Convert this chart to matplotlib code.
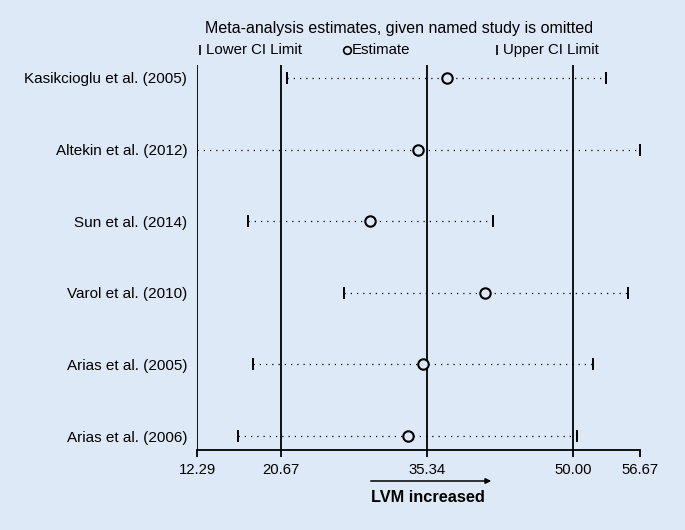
import matplotlib.pyplot as plt
from matplotlib.lines import Line2D

plt.rcParams['font.family'] = ['Liberation Sans', 'DejaVu Sans']

# Studies omitted, in plot order (top to bottom)
studies = ['Kasikcioglu et al. (2005)', 'Altekin et al. (2012)', 'Sun et al. (2014)',
           'Varol et al. (2010)', 'Arias et al. (2005)', 'Arias et al. (2006)']
lower_ci = [21.31, 12.29, 17.37, 27.02, 17.87, 16.43]
estimate = [37.31, 34.47, 29.62, 41.15, 34.90, 33.40]
upper_ci = [53.27, 56.67, 41.92, 55.44, 52.00, 50.34]

# overall estimate and axis ticks
overall = [20.67, 35.34, 50.00]
xticks = [12.29, 20.67, 35.34, 50.00, 56.67]
xtick_labels = ['12.29', '20.67', '35.34', '50.00', '56.67']

bg = '#dde9f6'
fig = plt.figure(figsize=(6.85, 5.30), dpi=100, facecolor=bg)
ax = fig.add_axes([197 / 685, 1 - 450 / 530, 443 / 685, 385 / 530])
ax.set_facecolor(bg)

rows = list(range(len(studies)))

# dotted lines lower -> upper
for i in rows:
    ax.plot([lower_ci[i], upper_ci[i]], [i, i], color='black', lw=0.9,
            linestyle=(0, (1, 4)), zorder=2)

# reference lines for the overall result
for v in [xticks[0]] + overall:
    ax.axvline(v, color='black', lw=1.3, zorder=1)

ax.plot(lower_ci, rows, linestyle='none', marker='|', ms=9, mew=1.4, color='black', zorder=3)
ax.plot(upper_ci, rows, linestyle='none', marker='|', ms=9, mew=1.4, color='black', zorder=3)
ax.plot(estimate, rows, linestyle='none', marker='o', ms=7.5, mew=1.5,
        mfc=bg, mec='black', zorder=4)

ax.set_xlim(xticks[0], xticks[-1])
ax.set_ylim(5.195, -0.18)
ax.set_yticks(rows)
ax.set_yticklabels(studies, fontsize=11)
ax.tick_params(axis='y', length=0, pad=7)
ax.set_xticks(xticks)
ax.set_xticklabels(xtick_labels, fontsize=10.7)
ax.tick_params(axis='x', length=5, width=1.3, direction='out', pad=4)

for s in ['top', 'right', 'left']:
    ax.spines[s].set_visible(False)
ax.spines['bottom'].set_linewidth(1.3)

# title and legend line
fig.text(205 / 685, 1 - 28 / 530, 'Meta-analysis estimates, given named study is omitted',
         fontsize=11.5, va='center', ha='left')
leg_y = 1 - 50 / 530
fig.add_artist(Line2D([200 / 685], [leg_y], marker='|', ms=7, mew=1.2, color='black',
                      linestyle='none'))
fig.text(206 / 685, leg_y, 'Lower CI Limit', fontsize=10.8, va='center', ha='left')
fig.add_artist(Line2D([347 / 685], [leg_y], marker='o', ms=5.5, mew=1.2, mfc=bg,
                      mec='black', linestyle='none'))
fig.text(352 / 685, leg_y, 'Estimate', fontsize=10.8, va='center', ha='left')
fig.add_artist(Line2D([497 / 685], [leg_y], marker='|', ms=7, mew=1.2, color='black',
                      linestyle='none'))
fig.text(503 / 685, leg_y, 'Upper CI Limit', fontsize=10.8, va='center', ha='left')

# direction arrow
ax.annotate('', xy=(494, 530 - 481), xytext=(368, 530 - 481),
            xycoords='figure pixels', textcoords='figure pixels',
            arrowprops=dict(arrowstyle='-|>', color='black', lw=1.1, mutation_scale=8))
fig.text(428 / 685, 1 - 497 / 530, 'LVM increased', fontsize=11.8, fontweight='bold',
         ha='center', va='center')

fig.savefig('out.png', dpi=100, facecolor=bg)
